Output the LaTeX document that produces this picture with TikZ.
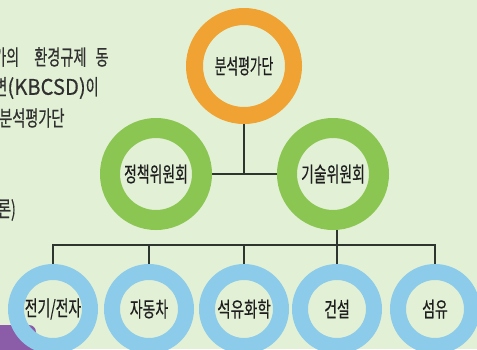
\documentclass[tikz,border=0pt]{standalone}
\usepackage{graphicx}
\usepackage{fontspec}
\setmainfont{Noto Sans CJK KR}
\newfontfamily\kmed[FakeBold=0.5]{Noto Sans CJK KR}
\usetikzlibrary{backgrounds}
\definecolor{bgC}{HTML}{E2F1D6}
\definecolor{orangeC}{HTML}{F0A232}
\definecolor{greenC}{HTML}{8CC652}
\definecolor{blueC}{HTML}{8CCBEA}
\definecolor{purpleC}{HTML}{8B5CA8}
\definecolor{lineC}{HTML}{2E342E}
\definecolor{txtC}{HTML}{1E1E1E}
\newcommand{\nar}[1]{\scalebox{0.66}[1]{#1}}
\begin{document}
\begin{tikzpicture}[x=1pt,y=-1pt,
  ring/.style={circle, inner sep=0pt, text=txtC, font=\kmed\fontsize{21}{24}\selectfont},
  ringO/.style={ring, draw=orangeC, line width=17pt, minimum size=99pt},
  ringG/.style={ring, draw=greenC, line width=20pt, minimum size=92pt},
  ringB/.style={ring, draw=blueC, line width=16pt, minimum size=74pt},
  para/.style={inner sep=0pt, text=txtC!92!white, font=\kmed\fontsize{21.5}{24}\selectfont},
  conn/.style={draw=lineC, line width=2.2pt}]
\useasboundingbox (0,0) rectangle (477,349);
\begin{pgfonlayer}{background}
  \fill[bgC] (0,0) rectangle (477,349);
  \fill[purpleC, rounded corners=7pt] (-10,325) -- (36,325) -- (36,360) -- (-10,360) -- cycle;
\end{pgfonlayer}
\clip (0,0) rectangle (477,349);
% paragraph fragment at the left
\node[para, anchor=west] (p1) at (-7,57) {\nar{가의}\hspace{15pt}\nar{환경규제}\hspace{9pt}\nar{동}};
\node[para, anchor=east] (p2) at (99,88) {\nar{변}\scalebox{0.94}[1]{(KBCSD)}\nar{이}};
\node[para, anchor=west] (p3) at (-1,118) {\nar{분석평가단}};
\node[para, anchor=east] (p5) at (16,210) {\nar{론)}};
% rings
\node[ringO] (o) at (244,66) {\scalebox{0.92}[1]{\nar{분석평가단}}};
\node[ringG] (g1) at (156,174) {\nar{정책위원회}};
\node[ringG] (g2) at (333,174) {\nar{기술위원회}};
\node[ringB] (b1) at (53,309) {\nar{전기/전자}};
\node[ringB] (b2) at (149,309) {\nar{자동차}};
\node[ringB] (b3) at (244,309) {\scalebox{1.05}[1]{\nar{석유화학}}};
\node[ringB] (b4) at (337,309) {\nar{건설}};
\node[ringB] (b5) at (435,309) {\nar{섬유}};
\coordinate (bus) at (244,245);
\begin{pgfonlayer}{background}
  \draw[conn] (o.south) -- (o.south |- g1.east);
  \draw[conn] (g1.east) -- (g2.west);
  \draw[conn] (b1.north) |- (bus) -| (b5.north);
  \draw[conn] (b2.north) -- (b2.north |- bus);
  \draw[conn] (b3.north) -- (b3.north |- bus);
  \draw[conn] (b4.north) -- (b4.north |- g2.south);
\end{pgfonlayer}
\end{tikzpicture}
\end{document}
